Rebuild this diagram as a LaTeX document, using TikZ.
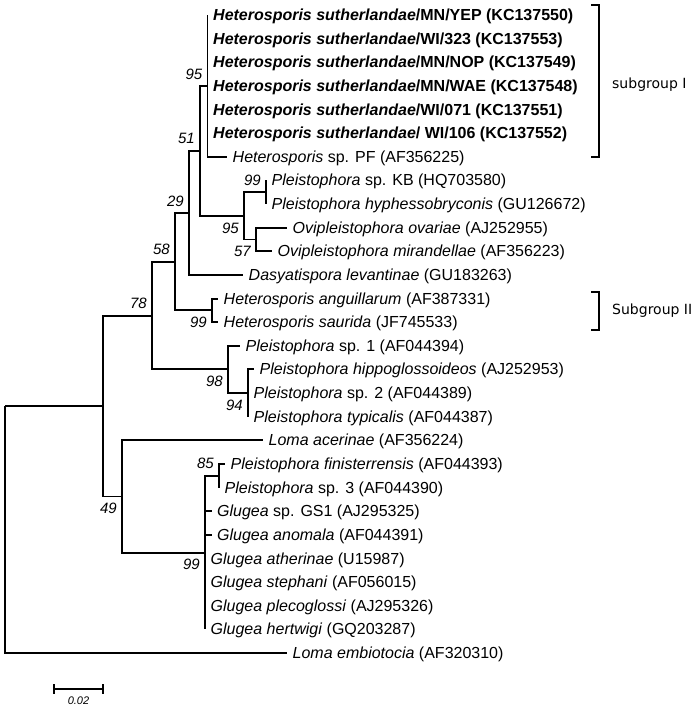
\documentclass[tikz,border=0pt]{standalone}
\usepackage{fontspec}
\setmainfont{Liberation Sans}
\newfontfamily\grpfont{DejaVu Sans}
\usepackage{tikz}

\begin{document}
\begin{tikzpicture}[
    x=1pt, y=-1pt,       % pixel-like units, y grows downwards
    branch/.style={line width=1.9pt},
    taxon/.style={anchor=west, inner xsep=5.5pt, inner ysep=1pt, text height=11.5pt, text depth=0.5pt, font=\fontsize{16}{19}\selectfont},
    boot/.style={anchor=east, inner sep=0pt, xshift=-5pt, font=\fontsize{15}{18}\selectfont\itshape},
    bsabove/.style={boot, yshift=12pt},
    bsbelow/.style={boot, yshift=-12pt},
    group/.style={anchor=west, inner sep=0pt, font=\grpfont\fontsize{14}{17}\selectfont}
]
    \useasboundingbox (0,0) rectangle (695,710);

    % --- 1. Taxa (tips) ---
    \node[taxon] (t1) at (207.5,15.0) {\textbf{\textit{Heterosporis sutherlandae}/MN/YEP (KC137550)}};
    \node[taxon] (t2) at (207.5,38.6) {\textbf{\textit{Heterosporis sutherlandae}/WI/323 (KC137553)}};
    \node[taxon] (t3) at (207.5,62.3) {\textbf{\textit{Heterosporis sutherlandae}/MN/NOP (KC137549)}};
    \node[taxon] (t4) at (207.5,85.9) {\textbf{\textit{Heterosporis sutherlandae}/MN/WAE (KC137548)}};
    \node[taxon] (t5) at (207.5,109.5) {\textbf{\textit{Heterosporis sutherlandae}/WI/071 (KC137551)}};
    \node[taxon] (t6) at (207.5,133.2) {\textbf{\textit{Heterosporis sutherlandae}/ WI/106 (KC137552)}};
    \node[taxon] (t7) at (227,156.8) {\textit{Heterosporis} sp. PF (AF356225)};
    \node[taxon] (t8) at (266,180.4) {\textit{Pleistophora} sp. KB (HQ703580)};
    \node[taxon] (t9) at (266,204.0) {\textit{Pleistophora hyphessobryconis} (GU126672)};
    \node[taxon] (t10) at (287,227.7) {\textit{Ovipleistophora ovariae} (AJ252955)};
    \node[taxon] (t11) at (272,251.3) {\textit{Ovipleistophora mirandellae} (AF356223)};
    \node[taxon] (t12) at (243,274.9) {\textit{Dasyatispora levantinae} (GU183263)};
    \node[taxon] (t13) at (218,298.6) {\textit{Heterosporis anguillarum} (AF387331)};
    \node[taxon] (t14) at (218,322.2) {\textit{Heterosporis saurida} (JF745533)};
    \node[taxon] (t15) at (240,345.8) {\textit{Pleistophora} sp. 1 (AF044394)};
    \node[taxon] (t16) at (254,369.4) {\textit{Pleistophora hippoglossoideos} (AJ252953)};
    \node[taxon] (t17) at (248,393.1) {\textit{Pleistophora} sp. 2 (AF044389)};
    \node[taxon] (t18) at (248,416.7) {\textit{Pleistophora typicalis} (AF044387)};
    \node[taxon] (t19) at (263,440.3) {\textit{Loma acerinae} (AF356224)};
    \node[taxon] (t20) at (225,464.0) {\textit{Pleistophora finisterrensis} (AF044393)};
    \node[taxon] (t21) at (219,487.6) {\textit{Pleistophora} sp. 3 (AF044390)};
    \node[taxon] (t22) at (211.5,511.2) {\textit{Glugea} sp. GS1 (AJ295325)};
    \node[taxon] (t23) at (211.5,534.9) {\textit{Glugea anomala} (AF044391)};
    \node[taxon] (t24) at (205,558.5) {\textit{Glugea atherinae} (U15987)};
    \node[taxon] (t25) at (205,582.1) {\textit{Glugea stephani} (AF056015)};
    \node[taxon] (t26) at (205,605.7) {\textit{Glugea plecoglossi} (AJ295326)};
    \node[taxon] (t27) at (205,629.4) {\textit{Glugea hertwigi} (GQ203287)};
    \node[taxon] (t28) at (287,653.0) {\textit{Loma embiotocia} (AF320310)};

    % --- 2. Internal nodes ---
    \coordinate (suthClade) at (207.5,85.9);
    \coordinate (kbClade) at (266,192.2);
    \coordinate (oviClade) at (256,239.5);
    \coordinate (pleoviClade) at (244,215.9);
    \coordinate (hetpleClade) at (200,150.9);
    \coordinate (dasyClade) at (189,212.9);
    \coordinate (hetClade) at (212,310.4);
    \coordinate (midClade) at (175,261.7);
    \coordinate (hippoClade) at (248,393.1);
    \coordinate (pleClade) at (228,369.4);
    \coordinate (upperClade) at (152,315.6);
    \coordinate (finClade) at (219,475.8);
    \coordinate (glugClade) at (205,552.6);
    \coordinate (lowerClade) at (122,496.5);
    \coordinate (ingroup) at (103,406.0);
    \coordinate (root) at (5,406.0);

    % --- 3. Branches (parent |- child) ---
    \draw[branch] (suthClade) |- (t1.west) (suthClade) |- (t2.west) (suthClade) |- (t3.west)
                  (suthClade) |- (t4.west) (suthClade) |- (t5.west) (suthClade) |- (t6.west)
                  (suthClade) |- (t7.west);
    \draw[branch] (kbClade) |- (t8.west) (kbClade) |- (t9.west);
    \draw[branch] (oviClade) |- (t10.west) (oviClade) |- (t11.west);
    \draw[branch] (pleoviClade) |- (kbClade) (pleoviClade) |- (oviClade);
    \draw[branch] (hetpleClade) |- (suthClade) (hetpleClade) |- (pleoviClade);
    \draw[branch] (dasyClade) |- (hetpleClade) (dasyClade) |- (t12.west);
    \draw[branch] (hetClade) |- (t13.west) (hetClade) |- (t14.west);
    \draw[branch] (midClade) |- (dasyClade) (midClade) |- (hetClade);
    \draw[branch] (hippoClade) |- (t16.west) (hippoClade) |- (t17.west) (hippoClade) |- (t18.west);
    \draw[branch] (pleClade) |- (t15.west) (pleClade) |- (hippoClade);
    \draw[branch] (upperClade) |- (midClade) (upperClade) |- (pleClade);
    \draw[branch] (finClade) |- (t20.west) (finClade) |- (t21.west);
    \draw[branch] (glugClade) |- (finClade) (glugClade) |- (t22.west) (glugClade) |- (t23.west)
                  (glugClade) |- (t24.west) (glugClade) |- (t25.west) (glugClade) |- (t26.west)
                  (glugClade) |- (t27.west);
    \draw[branch] (lowerClade) |- (t19.west) (lowerClade) |- (glugClade);
    \draw[branch] (ingroup) |- (upperClade) (ingroup) |- (lowerClade);
    \draw[branch] (root) |- (ingroup) (root) |- (t28.west);

    % --- 4. Bootstrap values ---
    \node[bsabove] (bs1) at (suthClade) {95};
    \node[bsabove] (bs2) at (hetpleClade) {51};
    \node[bsabove] (bs3) at (dasyClade) {29};
    \node[bsabove] (bs4) at (midClade) {58};
    \node[bsabove] (bs5) at (upperClade) {78};
    \node[bsabove] (bs6) at (kbClade) {99};
    \node[bsbelow] (bs7) at (pleoviClade) {95};
    \node[bsbelow] (bs8) at (oviClade) {57};
    \node[bsbelow] (bs9) at (hetClade) {99};
    \node[bsbelow] (bs10) at (pleClade) {98};
    \node[bsbelow] (bs11) at (hippoClade) {94};
    \node[bsabove] (bs12) at (finClade) {85};
    \node[bsbelow] (bs13) at (glugClade) {99};
    \node[bsbelow] (bs14) at (lowerClade) {49};

    % --- 5. Subgroup brackets ---
    \draw[branch] (591,5) -- (599,5) -- (599,157) -- (591,157);
    \node[group] (grpI) at (612,85) {subgroup I};
    \draw[branch] (591,292) -- (599,292) -- (599,330) -- (591,330);
    \node[group] (grpII) at (612,311) {Subgroup II};

    % --- 6. Scale bar ---
    \coordinate (barL) at (54,689);
    \coordinate (barR) at (103,689);
    \draw[line width=1.6pt] (barL) -- (barR);
    \draw[line width=1.6pt] ([yshift=5pt]barL) -- ([yshift=-5pt]barL);
    \draw[line width=1.6pt] ([yshift=5pt]barR) -- ([yshift=-5pt]barR);
    \node[font=\fontsize{11}{13}\selectfont\itshape, inner sep=0pt] (barLbl) at (78.5,701) {0.02};

\end{tikzpicture}
\end{document}
